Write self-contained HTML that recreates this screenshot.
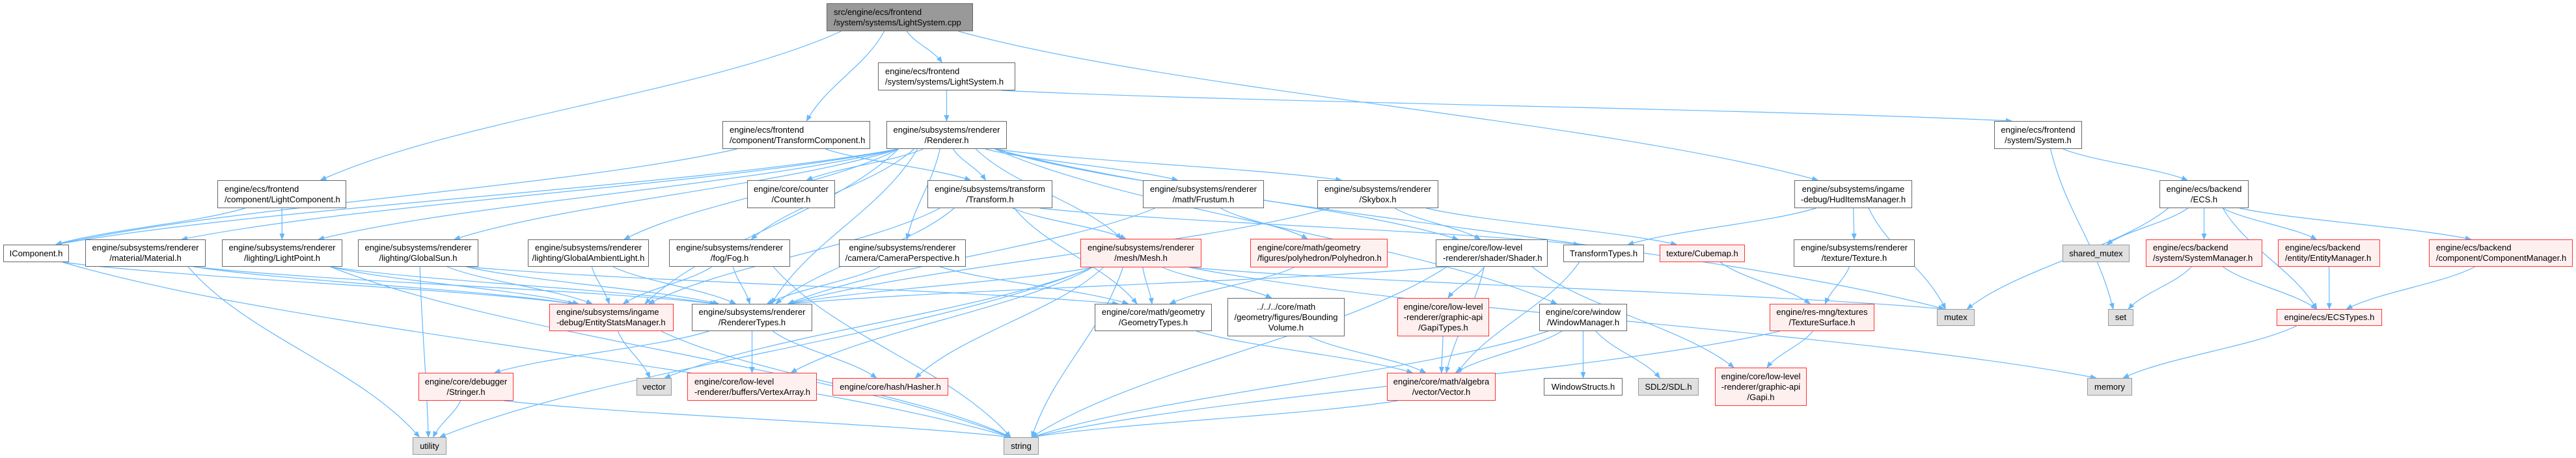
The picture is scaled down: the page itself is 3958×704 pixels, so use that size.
<!DOCTYPE html>
<html><head><meta charset="utf-8">
<style>
html,body{margin:0;padding:0;background:#fff;}
body{width:3958px;height:704px;position:relative;overflow:hidden;font-family:"Liberation Sans",Arial,sans-serif;}
svg{position:absolute;left:0;top:0;}
.n{position:absolute;box-sizing:border-box;border:1.5px solid #666;background:#fff;display:flex;align-items:center;justify-content:center;text-align:center;font-size:13px;line-height:16px;color:#000;white-space:nowrap;}
.n.l{justify-content:flex-start;text-align:left;padding-left:10px;}
.r{border-color:#f33;background:#fff0f0;}
.g{border-color:#999;background:#e0e0e0;}
.d{border-color:#666;background:#999;}
</style></head><body>
<svg id="s" width="3958" height="704" xmlns="http://www.w3.org/2000/svg">
<defs><marker id="a" markerWidth="10" markerHeight="8" refX="9" refY="4" orient="auto" markerUnits="userSpaceOnUse"><path d="M0,0 L10,4 L0,8 z" fill="#63b8ff"/></marker></defs>
<g id="e" fill="none" stroke="#63b8ff" stroke-width="1.2"></g>
</svg>
<div class="n d l" id="cpp" style="left:1270px;top:5px;width:225px;height:43px">src/engine/ecs/frontend<br>/system/systems/LightSystem.cpp</div>
<div class="n l" id="lsh" style="left:1349px;top:96px;width:211px;height:43px">engine/ecs/frontend<br>/system/systems/LightSystem.h</div>
<div class="n l" id="tc" style="left:1110px;top:186px;width:227px;height:43px">engine/ecs/frontend<br>/component/TransformComponent.h</div>
<div class="n" id="rend" style="left:1362px;top:186px;width:185px;height:43px">engine/subsystems/renderer<br>/Renderer.h</div>
<div class="n" id="sys" style="left:3064px;top:186px;width:135px;height:43px">engine/ecs/frontend<br>/system/System.h</div>
<div class="n l" id="lc" style="left:334px;top:277px;width:198px;height:43px">engine/ecs/frontend<br>/component/LightComponent.h</div>
<div class="n" id="counter" style="left:1148px;top:277px;width:135px;height:43px">engine/core/counter<br>/Counter.h</div>
<div class="n" id="transf" style="left:1425px;top:277px;width:192px;height:43px">engine/subsystems/transform<br>/Transform.h</div>
<div class="n" id="frust" style="left:1756px;top:277px;width:186px;height:43px">engine/subsystems/renderer<br>/math/Frustum.h</div>
<div class="n" id="skybox" style="left:2024px;top:277px;width:186px;height:43px">engine/subsystems/renderer<br>/Skybox.h</div>
<div class="n" id="hud" style="left:2757px;top:277px;width:181px;height:43px">engine/subsystems/ingame<br>-debug/HudItemsManager.h</div>
<div class="n" id="ecs" style="left:3318px;top:277px;width:137px;height:43px">engine/ecs/backend<br>/ECS.h</div>
<div class="n" id="icomp" style="left:5px;top:376px;width:101px;height:27px">IComponent.h</div>
<div class="n" id="mat" style="left:131px;top:368px;width:185px;height:42px">engine/subsystems/renderer<br>/material/Material.h</div>
<div class="n" id="lp" style="left:341px;top:368px;width:185px;height:42px">engine/subsystems/renderer<br>/lighting/LightPoint.h</div>
<div class="n" id="gsun" style="left:550px;top:368px;width:185px;height:42px">engine/subsystems/renderer<br>/lighting/GlobalSun.h</div>
<div class="n" id="gamb" style="left:811px;top:368px;width:186px;height:42px">engine/subsystems/renderer<br>/lighting/GlobalAmbientLight.h</div>
<div class="n" id="fog" style="left:1028px;top:368px;width:186px;height:42px">engine/subsystems/renderer<br>/fog/Fog.h</div>
<div class="n" id="cam" style="left:1289px;top:368px;width:195px;height:42px">engine/subsystems/renderer<br>/camera/CameraPerspective.h</div>
<div class="n r" id="mesh" style="left:1660px;top:367px;width:186px;height:44px">engine/subsystems/renderer<br>/mesh/Mesh.h</div>
<div class="n r l" id="poly" style="left:1921px;top:367px;width:211px;height:44px">engine/core/math/geometry<br>/figures/polyhedron/Polyhedron.h</div>
<div class="n l" id="shader" style="left:2206px;top:368px;width:172px;height:42px">engine/core/low-level<br>-renderer/shader/Shader.h</div>
<div class="n" id="ttypes" style="left:2402px;top:376px;width:124px;height:27px">TransformTypes.h</div>
<div class="n r" id="cube" style="left:2550px;top:376px;width:131px;height:27px">texture/Cubemap.h</div>
<div class="n" id="tex" style="left:2756px;top:368px;width:186px;height:42px">engine/subsystems/renderer<br>/texture/Texture.h</div>
<div class="n g" id="shmut" style="left:3169px;top:376px;width:103px;height:27px">shared_mutex</div>
<div class="n r l" id="sysm" style="left:3297px;top:368px;width:179px;height:42px">engine/ecs/backend<br>/system/SystemManager.h</div>
<div class="n r l" id="entm" style="left:3500px;top:368px;width:157px;height:42px">engine/ecs/backend<br>/entity/EntityManager.h</div>
<div class="n r l" id="compm" style="left:3732px;top:368px;width:221px;height:42px">engine/ecs/backend<br>/component/ComponentManager.h</div>
<div class="n r l" id="esm" style="left:844px;top:467px;width:191px;height:42px">engine/subsystems/ingame<br>-debug/EntityStatsManager.h</div>
<div class="n" id="rtypes" style="left:1063px;top:467px;width:185px;height:42px">engine/subsystems/renderer<br>/RendererTypes.h</div>
<div class="n" id="geo" style="left:1682px;top:467px;width:180px;height:42px">engine/core/math/geometry<br>/GeometryTypes.h</div>
<div class="n" id="bv" style="left:1886px;top:458px;width:180px;height:59px">../../../core/math<br>/geometry/figures/Bounding<br>Volume.h</div>
<div class="n r" id="gapit" style="left:2147px;top:458px;width:141px;height:59px">engine/core/low-level<br>-renderer/graphic-api<br>/GapiTypes.h</div>
<div class="n" id="wm" style="left:2365px;top:467px;width:135px;height:42px">engine/core/window<br>/WindowManager.h</div>
<div class="n r" id="tsurf" style="left:2719px;top:467px;width:161px;height:42px">engine/res-mng/textures<br>/TextureSurface.h</div>
<div class="n g" id="mutex" style="left:2976px;top:475px;width:58px;height:26px">mutex</div>
<div class="n g" id="set" style="left:3239px;top:475px;width:39px;height:26px">set</div>
<div class="n r" id="ecst" style="left:3498px;top:475px;width:162px;height:26px">engine/ecs/ECSTypes.h</div>
<div class="n r" id="stringer" style="left:643px;top:573px;width:146px;height:43px">engine/core/debugger<br>/Stringer.h</div>
<div class="n g" id="vector" style="left:978px;top:581px;width:54px;height:27px">vector</div>
<div class="n r l" id="va" style="left:1056px;top:573px;width:199px;height:43px">engine/core/low-level<br>-renderer/buffers/VertexArray.h</div>
<div class="n r" id="hasher" style="left:1279px;top:581px;width:178px;height:27px">engine/core/hash/Hasher.h</div>
<div class="n r" id="vec" style="left:2131px;top:573px;width:167px;height:43px">engine/core/math/algebra<br>/vector/Vector.h</div>
<div class="n" id="ws" style="left:2372px;top:581px;width:121px;height:27px">WindowStructs.h</div>
<div class="n g" id="sdl" style="left:2517px;top:581px;width:93px;height:27px">SDL2/SDL.h</div>
<div class="n r" id="gapi" style="left:2635px;top:565px;width:141px;height:59px">engine/core/low-level<br>-renderer/graphic-api<br>/Gapi.h</div>
<div class="n g" id="memory" style="left:3207px;top:581px;width:69px;height:27px">memory</div>
<div class="n g" id="utility" style="left:634px;top:672px;width:52px;height:27px">utility</div>
<div class="n g" id="string" style="left:1542px;top:672px;width:54px;height:27px">string</div>
<script>
var E="cpp>lsh cpp>tc cpp>lc cpp>hud lsh>rend lsh>sys tc>icomp tc>transf rend>mat rend>lp rend>gsun rend>gamb rend>fog rend>counter rend>transf rend>cam rend>mesh rend>rtypes rend>frust rend>skybox rend>shader rend>wm rend>mutex rend>esm rend>icomp lc>icomp lc>lp transf>mesh transf>rtypes transf>geo transf>ttypes transf>esm frust>poly frust>rtypes skybox>shader skybox>cube skybox>rtypes hud>ttypes hud>tex hud>mutex tex>tsurf cube>tsurf tsurf>gapi tsurf>string shader>gapit shader>vec shader>gapi shader>string shader>rtypes ttypes>vec wm>vec wm>ws wm>sdl wm>string gapit>vec icomp>esm icomp>string mat>esm mat>rtypes mat>utility lp>esm lp>rtypes lp>string gsun>esm gsun>rtypes gsun>utility gsun>geo gamb>esm gamb>rtypes fog>esm fog>rtypes fog>string cam>rtypes cam>geo mesh>rtypes mesh>geo mesh>bv mesh>va mesh>hasher mesh>string mesh>utility mesh>vector mesh>memory mesh>mutex poly>geo esm>vector esm>string rtypes>stringer rtypes>va rtypes>hasher stringer>utility stringer>string geo>vec bv>vec vec>string sys>set sys>ecs ecs>mutex ecs>shmut ecs>sysm ecs>entm ecs>compm ecs>ecst sysm>set sysm>ecst entm>ecst compm>ecst ecst>memory".split(" ");
function b(id){var el=document.getElementById(id);return {x:el.offsetLeft,y:el.offsetTop,w:el.offsetWidth,h:el.offsetHeight};}
var g=document.getElementById("e"),p="";
E.forEach(function(s){var q=s.split(">"),A=b(q[0]),B=b(q[1]);
var ac=A.x+A.w/2,bc=B.x+B.w/2,d,x1,y1,x2,y2;
if(B.y>A.y+A.h-2){
x1=ac+Math.max(-A.w*0.4,Math.min(A.w*0.4,(bc-ac)*0.15));y1=A.y+A.h;
x2=bc+Math.max(-B.w*0.3,Math.min(B.w*0.3,(ac-bc)*0.1));y2=B.y;
var dy=(y2-y1),dx=(x2-x1);
d="M"+x1+","+y1+" C"+(x1+dx*0.25)+","+(y1+dy*0.4)+" "+(x2-dx*0.25)+","+(y2-dy*0.4)+" "+x2+","+y2;
}else{
if(bc<ac){x1=A.x;x2=B.x+B.w;}else{x1=A.x+A.w;x2=B.x;}
y1=A.y+A.h/2;y2=B.y+B.h/2;
d="M"+x1+","+y1+" C"+((x1+x2)/2)+","+y1+" "+((x1+x2)/2)+","+y2+" "+x2+","+y2;
}
p+='<path d="'+d+'" marker-end="url(#a)"/>';});
g.innerHTML=p;
</script>
</body></html>
